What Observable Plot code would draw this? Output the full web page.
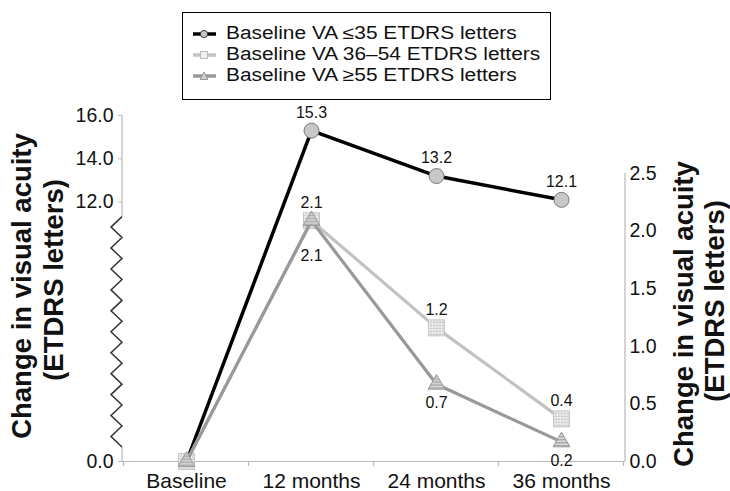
<!DOCTYPE html>
<html>
<head>
<meta charset="utf-8">
<script src="https://cdn.jsdelivr.net/npm/d3@7"></script>
<script src="https://cdn.jsdelivr.net/npm/@observablehq/plot@0.6"></script>
<style>
  body { margin: 0; background: #fff; font-family: "Liberation Sans", Arial, sans-serif; }
  #wrap { position: relative; width: 730px; height: 491px; overflow: hidden; }
  #wrap > svg { position: absolute; left: 0; top: 0; }
  #legend { position: absolute; left: 182px; top: 12px; width: 369px; height: 88px; box-sizing: border-box;
            border: 1.5px solid #000; padding: 10px 0 0 10px; background: #fff; z-index: 5; }
  .row { height: 21px; display: flex; align-items: center; color: #111; }
  .row svg { flex: none; margin-right: 10px; }
  .row span { display: block; line-height: 21px; font-size: 18px; white-space: nowrap;
              transform: scaleX(1.16); transform-origin: 0 50%; }
</style>
</head>
<body>
<svg width="0" height="0" style="position:absolute">
  <defs>
    <pattern id="gridPat" width="3" height="3" patternUnits="userSpaceOnUse">
      <rect width="3" height="3" fill="#f4f4f4"></rect>
      <path d="M0 0.5H3M0.5 0V3" stroke="#cfcfcf" stroke-width="1"></path>
    </pattern>
    <pattern id="stripePat" width="3" height="3" patternUnits="userSpaceOnUse">
      <rect width="3" height="3" fill="#dcdcdc"></rect>
      <rect y="0" width="3" height="1.5" fill="#a8a8a8"></rect>
    </pattern>
  </defs>
</svg>
<div id="wrap"></div>
<script>
// ---- data ----
const months = ["Baseline", "12 months", "24 months", "36 months"];
const vaLow  = [0, 15.3, 13.2, 12.1];   // Baseline VA ≤35 (left axis)
const vaMid  = [0, 2.09, 1.16, 0.37];   // Baseline VA 36–54 (right axis)
const vaHigh = [0, 2.09, 0.67, 0.17];   // Baseline VA ≥55 (right axis)
const leftTicks  = [0, 12, 14, 16];
const rightTicks = [0, 0.5, 1.0, 1.5, 2.0, 2.5];
const seriesNames = ["Baseline VA ≤35 ETDRS letters", "Baseline VA 36–54 ETDRS letters", "Baseline VA ≥55 ETDRS letters"];
const axisTitle = ["Change in visual acuity", "(ETDRS letters)"];

const low  = months.map((m, i) => ({m, v: vaLow[i]}));
const mid  = months.map((m, i) => ({m, v: vaMid[i]}));
const high = months.map((m, i) => ({m, v: vaHigh[i]}));

const W = 730, H = 491, ML = 122, MR = 105, MB = 30;
const fmt = d3.format(".1f");
const FONT = '"Liberation Sans", Arial, sans-serif';
const AXIS_GRAY = "#b9b9b9";
const xOpt = {type: "point", domain: months, padding: 0.5};
const baseStyle = {background: "transparent", fontFamily: FONT, overflow: "visible", color: "#111"};

// ---- left plot (≤35 series, broken left axis) ----
const left = Plot.plot({
  width: W, height: H, marginLeft: ML, marginRight: MR, marginTop: 115, marginBottom: MB,
  style: baseStyle,
  x: {...xOpt, axis: null},
  y: {domain: [0, 16]},
  marks: [
    Plot.axisY({ticks: leftTicks, tickFormat: fmt, tickSize: 4, tickPadding: 5, fontSize: 19.5, stroke: AXIS_GRAY, label: null}),
    Plot.line(low, {x: "m", y: "v", stroke: "#000", strokeWidth: 3.5}),
    Plot.dot(low, {x: "m", y: "v", r: 7.5, fill: "#c8c8c8", stroke: "#7a7a7a", strokeWidth: 1}),
    Plot.text(low.filter(d => d.v > 0), {x: "m", y: "v", text: d => fmt(d.v), dy: -18, fontSize: 16})
  ]
});

// ---- right plot (36–54 and ≥55 series, right axis, x axis) ----
const right = Plot.plot({
  width: W, height: H, marginLeft: ML, marginRight: MR, marginTop: 173, marginBottom: MB,
  style: baseStyle,
  x: xOpt,
  y: {domain: [0, 2.5]},
  marks: [
    Plot.axisX({tickSize: 0, tickPadding: 12, fontSize: 21, label: null}),
    Plot.axisY({anchor: "right", ticks: rightTicks, tickFormat: fmt, tickSize: 0, tickPadding: 4, fontSize: 19.5, label: null}),
    Plot.ruleY([0], {stroke: AXIS_GRAY, strokeWidth: 1.2}),
    Plot.line(mid, {x: "m", y: "v", stroke: "#c2c2c2", strokeWidth: 3.2}),
    Plot.dot(mid, {x: "m", y: "v", symbol: "square", r: 9, fill: "url(#gridPat)", stroke: "#c6c6c6", strokeWidth: 1}),
    Plot.line(high, {x: "m", y: "v", stroke: "#999", strokeWidth: 3.2}),
    Plot.dot(high, {x: "m", y: "v", symbol: "triangle", r: 6.3, fill: "url(#stripePat)", stroke: "#9a9a9a", strokeWidth: 1}),
    Plot.text(mid.filter(d => d.v > 0), {x: "m", y: "v", text: d => fmt(d.v), dy: -18, fontSize: 16}),
    Plot.text(high.filter(d => d.v > 0 && d.m !== "12 months"), {x: "m", y: "v", text: d => fmt(d.v), dy: 19, fontSize: 16}),
    Plot.text(high.filter(d => d.m === "12 months"), {x: "m", y: "v", text: d => fmt(d.v), dy: 35, fontSize: 16})
  ]
});

// ---- decorations drawn with the plots' own scales ----
const yL = left.scale("y"), yR = right.scale("y"), xS = right.scale("x");
const gL = d3.select(left).append("g");
// left axis line with a zigzag break between 0 and 12
gL.append("line").attr("x1", ML).attr("x2", ML).attr("y1", yL.apply(16)).attr("y2", yL.apply(11.3))
  .attr("stroke", AXIS_GRAY).attr("stroke-width", 1.2);
gL.append("line").attr("x1", ML).attr("x2", ML).attr("y1", yL.apply(0.65)).attr("y2", yL.apply(0))
  .attr("stroke", AXIS_GRAY).attr("stroke-width", 1.2);
const zTop = yL.apply(11.3), zBot = yL.apply(0.65), nSeg = 22;
const zig = d3.range(nSeg + 1).map(i => [i % 2 ? ML - 11 : ML, zTop + (zBot - zTop) * i / nSeg]);
gL.append("path").attr("d", d3.line()(zig)).attr("fill", "none").attr("stroke", "#333").attr("stroke-width", 1.5);

function title(svg, xs, ys) {
  const g = d3.select(svg).append("g").attr("font-family", FONT).attr("font-weight", "bold")
    .attr("font-size", 27.5).attr("text-anchor", "middle").attr("fill", "#111");
  axisTitle.forEach((t, i) => g.append("text").attr("transform", `translate(${xs[i]},${ys[i]}) rotate(-90)`).text(t));
}
title(left, [31, 63], [286, 280]);

const gR = d3.select(right).append("g");
gR.append("line").attr("x1", W - MR).attr("x2", W - MR).attr("y1", yR.apply(0)).attr("y2", yR.apply(2.5))
  .attr("stroke", AXIS_GRAY).attr("stroke-width", 1.2);
const step = xS.apply(months[1]) - xS.apply(months[0]);
const bounds = months.map(m => xS.apply(m) - step / 2).concat([xS.apply(months[months.length - 1]) + step / 2]);
bounds.forEach(bx => gR.append("line").attr("x1", bx).attr("x2", bx).attr("y1", yR.apply(0)).attr("y2", yR.apply(0) + 5)
  .attr("stroke", AXIS_GRAY).attr("stroke-width", 1.2));
title(right, [693, 724], [314, 301]);

const wrap = document.getElementById("wrap");
wrap.appendChild(left);
wrap.appendChild(right);

// ---- legend ----
const legend = document.createElement("div");
legend.id = "legend";
const swatches = [
  {stroke: "#000", marker: `<circle cx="11" cy="6" r="3.6" fill="#c8c8c8" stroke="#333" stroke-width="1"/>`},
  {stroke: "#c2c2c2", marker: `<rect x="7.5" y="2.5" width="7" height="7" fill="#f0f0f0" stroke="#bbb" stroke-width="1"/>`},
  {stroke: "#999", marker: `<path d="M11 2L15 9.5H7Z" fill="#d0d0d0" stroke="#999" stroke-width="1"/>`}
];
seriesNames.forEach((name, i) => {
  const row = document.createElement("div");
  row.className = "row";
  row.innerHTML = `<svg width="23" height="12"><line x1="0" x2="23" y1="6" y2="6" stroke="${swatches[i].stroke}" stroke-width="3.5"/>${swatches[i].marker}</svg><span>${name}</span>`;
  legend.appendChild(row);
});
wrap.appendChild(legend);
</script>
</body>
</html>
